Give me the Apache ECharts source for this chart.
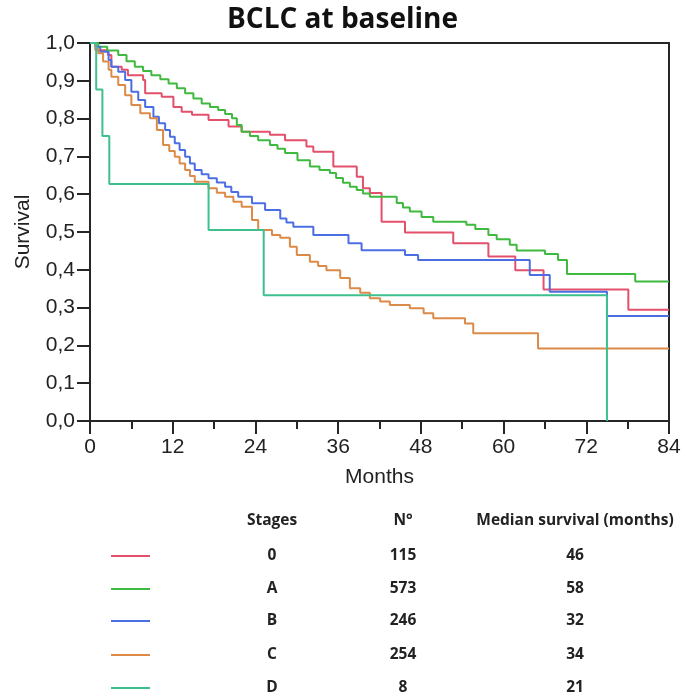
<!DOCTYPE html>
<html>
<head>
<meta charset="utf-8">
<script src="https://cdn.jsdelivr.net/npm/echarts@6/dist/echarts.min.js"></script>
<style>html,body{margin:0;padding:0;background:#fff;}#c{width:685px;height:700px;}</style>
</head>
<body>
<div id="c"></div>
<script>
// ---- Data (months, survival) ----
const stage0 = [[0,1],[0.8,0.981],[2.6,0.968],[3.1,0.937],[4.6,0.929],[5.5,0.915],[7.7,0.902],[8.0,0.867],[10.4,0.858],[12.1,0.831],[13.3,0.818],[14.8,0.810],[17.2,0.796],[20.1,0.779],[22.0,0.765],[26.1,0.757],[28.3,0.743],[31.4,0.726],[32.4,0.712],[35.3,0.673],[38.7,0.646],[39.6,0.616],[40.6,0.603],[42.3,0.527],[45.7,0.499],[52.7,0.470],[57.8,0.435],[61.7,0.399],[65.8,0.348],[78.1,0.294],[84,0.294]];
const stageA = [[0,1],[1.2,0.99],[2.5,0.98],[4.1,0.968],[5.3,0.952],[6.5,0.937],[7.7,0.926],[8.9,0.915],[10.2,0.904],[11.4,0.893],[12.6,0.880],[13.8,0.867],[15.0,0.853],[16.2,0.840],[17.4,0.831],[18.6,0.823],[19.6,0.812],[20.6,0.801],[21.3,0.783],[22.0,0.765],[23.2,0.754],[24.4,0.743],[26.1,0.730],[27.2,0.720],[28.3,0.709],[30.1,0.690],[31.9,0.673],[33.3,0.664],[34.8,0.656],[35.7,0.643],[36.7,0.630],[37.7,0.620],[38.7,0.611],[39.6,0.602],[40.6,0.593],[44.5,0.577],[45.4,0.565],[46.4,0.554],[48.1,0.540],[49.8,0.527],[54.6,0.519],[55.9,0.508],[57.8,0.492],[59.0,0.481],[60.9,0.466],[61.9,0.451],[66.0,0.442],[67.9,0.426],[69.2,0.389],[79.1,0.369],[84,0.369]];
const stageB = [[0,1],[0.8,0.99],[1.5,0.977],[2.7,0.955],[3.1,0.937],[4.1,0.924],[5.1,0.902],[6.0,0.871],[7.0,0.849],[8.0,0.831],[9.2,0.805],[10.0,0.788],[10.9,0.770],[11.6,0.752],[12.3,0.735],[13.0,0.717],[13.8,0.699],[14.5,0.681],[15.2,0.664],[16.2,0.653],[17.2,0.642],[18.4,0.631],[19.6,0.620],[20.5,0.606],[21.5,0.593],[23.5,0.576],[25.4,0.558],[27.6,0.536],[28.5,0.525],[29.5,0.514],[32.4,0.492],[37.5,0.470],[39.4,0.452],[45.7,0.439],[47.6,0.426],[63.8,0.386],[66.7,0.342],[75.0,0.278],[84,0.278]];
const stageC = [[0,1],[0.8,0.985],[1.2,0.973],[1.9,0.951],[2.7,0.929],[3.1,0.911],[4.1,0.889],[5.1,0.862],[6.0,0.836],[7.3,0.814],[8.7,0.801],[9.7,0.770],[10.6,0.730],[11.5,0.714],[12.3,0.699],[13.0,0.681],[13.8,0.664],[14.5,0.648],[15.2,0.633],[17.2,0.616],[18.4,0.604],[19.6,0.593],[20.8,0.580],[22.0,0.567],[23.5,0.532],[24.4,0.505],[26.4,0.492],[27.6,0.485],[29.0,0.461],[30.0,0.439],[31.9,0.421],[33.1,0.410],[34.3,0.399],[36.3,0.378],[37.7,0.351],[39.2,0.339],[40.6,0.325],[42.1,0.316],[43.5,0.307],[46.4,0.298],[48.4,0.285],[49.8,0.272],[54.4,0.258],[55.6,0.232],[65.0,0.192],[84,0.192]];
const stageD = [[0,1],[0.9,0.877],[1.8,0.754],[2.8,0.627],[17.2,0.505],[25.2,0.333],[75.0,0]];

const stageNames = ['0','A','B','C','D'];
const stageN = ['115','573','246','254','8'];
const stageMedian = ['46','58','32','34','21'];
const tableHeaders = ['Stages','N°','Median survival (months)'];
const colors = ['#e3506b','#3fb93f','#4b6fe3','#dc8a48','#3ec08e'];
const seriesData = [stage0, stageA, stageB, stageC, stageD];

const chart = echarts.init(document.getElementById('c'), null, {renderer:'canvas'});

const axisColor = '#262626';
const graphics = [];
const rowY = [556, 589, 621, 655, 688];
const colX = [272, 403, 575];
const headX = [272, 403, 575];
const tableFont = {fontSize:15.5, fontWeight:'bold', fontFamily:'Open Sans', fill:'#222'};
tableHeaders.forEach((h,i)=>{
  graphics.push({type:'text', style:Object.assign({text:h, x:headX[i], y:521, align:'center', verticalAlign:'middle'}, tableFont)});
});
stageNames.forEach((s,i)=>{
  graphics.push({type:'line', shape:{x1:111, y1:rowY[i], x2:150, y2:rowY[i]}, style:{stroke:colors[i], lineWidth:2}});
  [s, stageN[i], stageMedian[i]].forEach((t,j)=>{
    graphics.push({type:'text', style:Object.assign({text:t, x:colX[j], y:rowY[i], align:'center', verticalAlign:'middle'}, tableFont)});
  });
});

chart.setOption({
  animation:false,
  backgroundColor:'#fff',
  title:{text:'BCLC at baseline', left:'center', top:1, textStyle:{fontSize:28, fontWeight:'bold', fontFamily:'Open Sans', color:'#111'}},
  grid:{left:90, top:43, right:16, bottom:279, show:true, borderColor:axisColor, borderWidth:2, backgroundColor:'transparent'},
  xAxis:{type:'value', min:0, max:84, interval:12,
    axisLine:{show:true, onZero:false, lineStyle:{color:axisColor, width:2}},
    axisTick:{show:true, length:13, lineStyle:{color:axisColor, width:2}},
    minorTick:{show:true, splitNumber:2, length:8, lineStyle:{color:axisColor, width:2}},
    axisLabel:{fontSize:21, color:'#222', margin:16, fontFamily:'Liberation Sans'},
    splitLine:{show:false},
    name:'Months', nameLocation:'middle', nameGap:46, nameTextStyle:{fontSize:21, color:'#222', fontFamily:'Liberation Sans'}},
  yAxis:{type:'value', min:0, max:1, interval:0.1,
    axisLine:{show:true, lineStyle:{color:axisColor, width:2}},
    axisTick:{show:true, length:13, lineStyle:{color:axisColor, width:2}},
    axisLabel:{fontSize:21, color:'#222', margin:15, fontFamily:'Liberation Sans', formatter:v=>v.toFixed(1).replace('.',',')},
    splitLine:{show:false},
    name:'Survival', nameLocation:'middle', nameGap:56, nameRotate:90, nameTextStyle:{fontSize:21, color:'#222', fontFamily:'Liberation Sans'}},
  series: seriesData.map((d,i)=>({
    type:'line', name:stageNames[i], data:d, step:'end', showSymbol:false, symbol:'none',
    lineStyle:{color:colors[i], width:2}, itemStyle:{color:colors[i]}, z:2+i
  })),
  graphic: graphics
});
</script>
</body>
</html>
